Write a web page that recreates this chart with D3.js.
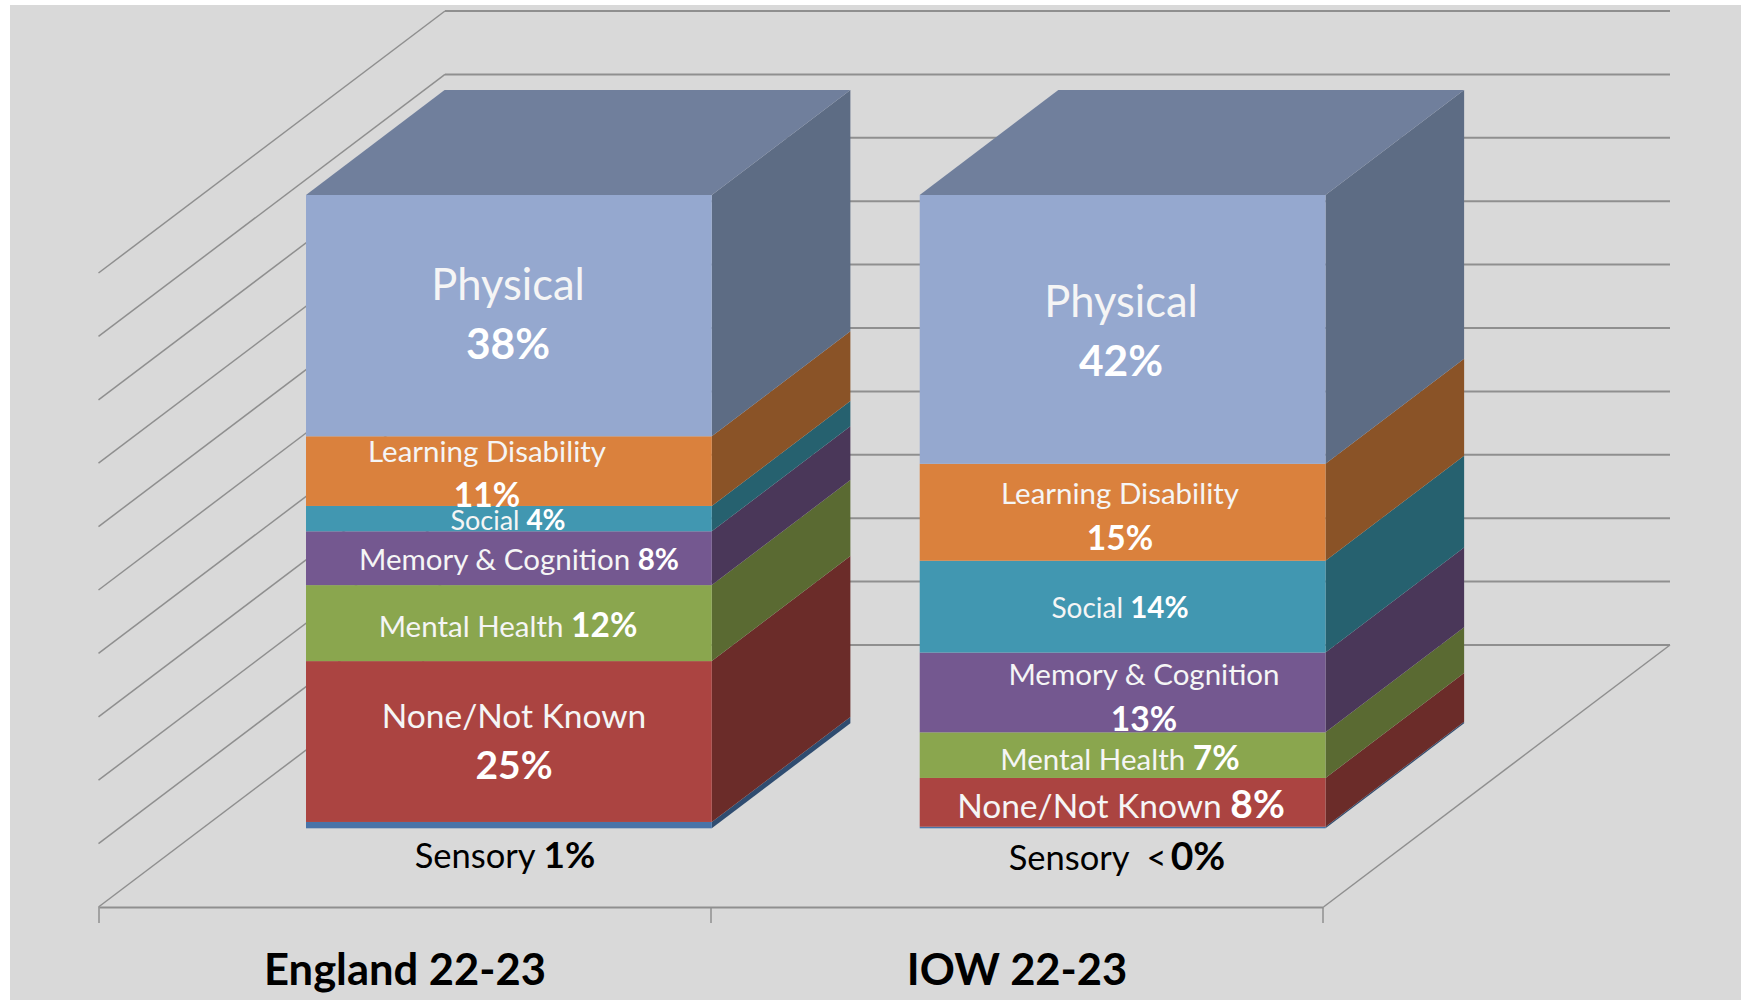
<!DOCTYPE html>
<html>
<head>
<meta charset="utf-8">
<script src="https://cdn.jsdelivr.net/npm/d3@7"></script>
<style>
  html, body { margin: 0; padding: 0; background: #fff; }
  svg { display: block; }
  text { font-family: Lato, "Open Sans", sans-serif; }
</style>
</head>
<body>
<svg id="chart" width="1741" height="1000"></svg>
<script>
var categories = ["England 22-23", "IOW 22-23"];
var seriesNames = ["Sensory", "None/Not Known", "Mental Health", "Memory & Cognition", "Social", "Learning Disability", "Physical"];

// heights, in percent of the stack
var englandValues = [1.0, 25.4, 12.0, 8.5, 4.0, 11.0, 38.1];
var iowValues = [0.25, 7.7, 7.2, 12.6, 14.5, 15.3, 42.45];

// what the labels say
var englandLabels = ["1%", "25%", "12%", "8%", "4%", "11%", "38%"];
var iowLabels = ["0%", "8%", "7%", "13%", "14%", "15%", "42%"];

var yTicks = [0, 10, 20, 30, 40, 50, 60, 70, 80, 90, 100];

var frontColors = ["#4873a8", "#ab4441", "#8aa64e", "#745890", "#4197b1", "#da813d", "#95a8cf"];
var sideColors = ["#2f4c70", "#6b2c29", "#5a6a32", "#4a3759", "#26616f", "#8a5327", "#5d6c84"];
var topColor = "#707f9c";
var gridColor = "#8f8f8f";

// label placement: cx, baseline, font sizes; y2 set when the percent sits on its own line
var englandLayout = [
  { cx: 505, y: 868, size: 34.5, pct: 37, color: "#000" },
  { cx: 514, y: 728, y2: 779, size: 33.5, pct: 39 },
  { cx: 508, y: 637, size: 29.5, pct: 33.5 },
  { cx: 519, y: 570, size: 29.5, pct: 29.5 },
  { cx: 508, y: 530, size: 27, pct: 28 },
  { cx: 487, y: 462, y2: 507, size: 29.5, pct: 33.5 },
  { cx: 508, y: 300, y2: 359, size: 43.5, pct: 42.5 }
];
var iowLayout = [
  { cx: 1117, y: 870, size: 34.5, pct: 39, color: "#000", pre: "  <\u2009" },
  { cx: 1121, y: 818, size: 33.5, pct: 39 },
  { cx: 1120, y: 770, size: 29.5, pct: 33.5 },
  { cx: 1144, y: 685, y2: 731, size: 29.5, pct: 33.5 },
  { cx: 1120, y: 618, size: 28, pct: 29.5 },
  { cx: 1120, y: 504, y2: 550, size: 29.5, pct: 33.5 },
  { cx: 1121, y: 317, y2: 376, size: 43.5, pct: 42.5 }
];

var valuesByCategory = [englandValues, iowValues];
var labelsByCategory = [englandLabels, iowLabels];
var layoutByCategory = [englandLayout, iowLayout];

var svg = d3.select("#chart");

svg.append("rect").attr("x", 10).attr("y", 5).attr("width", 1731).attr("height", 995).attr("fill", "#d9d9d9");

// 3d offsets
var depth = { dx: 138.6, dy: -105 };
var wall = { dx: 346.5, dy: -262 };

var rows = categories.map(function(c, i) {
  var row = { category: c };
  seriesNames.forEach(function(s, j) { row[s] = valuesByCategory[i][j]; });
  return row;
});
var stacked = d3.stack().keys(seriesNames)(rows);

var y = d3.scaleLinear().domain([0, 100]).range([828.3, 195]);
var yBack = d3.scaleLinear().domain([0, 100]).range([645, 11]);

var xFloor = d3.scaleBand().domain(categories).range([99, 1323]);
var xBar = d3.scaleBand().domain(categories).range([306, 1325.5]).paddingInner(0.3388);

// walls and floor
var $grid = svg.append("g").classed("grid", true).attr("stroke", gridColor).attr("fill", "none");
var backLeft = 445, backRight = 1670;

$grid.selectAll("line.h").data(yTicks).enter().append("line").classed("h", true)
  .attr("x1", backLeft).attr("x2", backRight)
  .attr("y1", function(d) { return yBack(d); })
  .attr("y2", function(d) { return yBack(d); })
  .attr("stroke-width", 2);

$grid.selectAll("line.d").data(yTicks).enter().append("line").classed("d", true)
  .attr("x1", backLeft).attr("x2", backLeft - wall.dx)
  .attr("y1", function(d) { return yBack(d); })
  .attr("y2", function(d) { return yBack(d) - wall.dy; })
  .attr("stroke-width", 1.5);

$grid.append("line")
  .attr("x1", backRight).attr("y1", yBack(0))
  .attr("x2", backRight - wall.dx).attr("y2", yBack(0) - wall.dy)
  .attr("stroke-width", 1.5);

// category axis along the front of the floor
var floorY = yBack(0) - wall.dy;
var $axis = svg.append("g").classed("x-axis", true)
  .attr("transform", "translate(0, " + floorY + ")")
  .call(d3.axisBottom(xFloor).tickSize(0).tickPadding(47));
$axis.select(".domain").attr("stroke", gridColor).attr("stroke-width", 2);
$axis.selectAll("text")
  .attr("fill", "#000")
  .style("font-size", "43.5px")
  .style("font-weight", 700);

var edges = categories.map(function(c) { return xFloor(c); }).concat(xFloor.range()[1]);
$axis.selectAll("line.edge").data(edges).enter().append("line").classed("edge", true)
  .attr("x1", function(d) { return d; }).attr("x2", function(d) { return d; })
  .attr("y1", 0).attr("y2", 16)
  .attr("stroke", gridColor).attr("stroke-width", 1.5);

// bars
categories.forEach(function(c, i) {
  var x0 = xBar(c), x1 = x0 + xBar.bandwidth();
  var $bar = svg.append("g").classed("bar", true);

  stacked.forEach(function(layer, j) {
    var yLow = y(layer[i][0]), yHigh = y(layer[i][1]);

    $bar.append("polygon")
      .attr("points", [[x1, yLow], [x1 + depth.dx, yLow + depth.dy], [x1 + depth.dx, yHigh + depth.dy], [x1, yHigh]].join(" "))
      .attr("fill", sideColors[j]);

    $bar.append("rect")
      .attr("x", x0).attr("y", yHigh)
      .attr("width", xBar.bandwidth()).attr("height", yLow - yHigh)
      .attr("fill", frontColors[j]);
  });

  var top = y(100);
  $bar.append("polygon")
    .attr("points", [[x0, top], [x0 + depth.dx, top + depth.dy], [x1 + depth.dx, top + depth.dy], [x1, top]].join(" "))
    .attr("fill", topColor);
});

// labels
categories.forEach(function(c, i) {
  seriesNames.forEach(function(name, j) {
    var l = layoutByCategory[i][j];
    var pctText = labelsByCategory[i][j];
    var color = l.color || "#f5f5f5";
    var pctColor = l.color || "#fff";

    var $t = svg.append("text")
      .attr("x", l.cx).attr("y", l.y)
      .attr("text-anchor", "middle")
      .attr("fill", color)
      .style("font-size", l.size + "px")
      .style("white-space", "pre");
    $t.append("tspan").text(name + (l.y2 ? "" : (l.pre || " ")));

    if (l.y2) {
      svg.append("text")
        .attr("x", l.cx).attr("y", l.y2)
        .attr("text-anchor", "middle")
        .attr("fill", pctColor)
        .style("font-size", l.pct + "px")
        .style("font-weight", 700)
        .text(pctText);
    } else {
      $t.append("tspan")
        .attr("fill", pctColor)
        .style("font-size", l.pct + "px")
        .style("font-weight", 700)
        .text(pctText);
    }
  });
});
</script>
</body>
</html>
